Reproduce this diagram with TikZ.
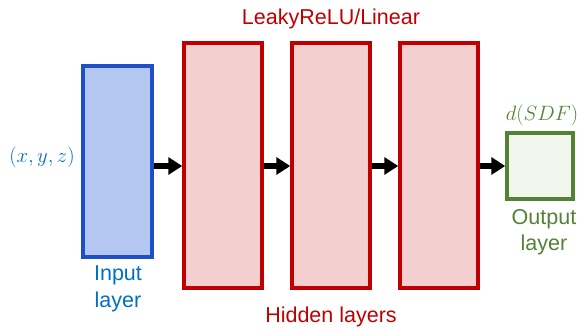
\documentclass[tikz,border=0pt]{standalone}
\usepackage{fontspec}
\setmainfont{Liberation Sans}
\usetikzlibrary{arrows.meta}
\definecolor{inblue}{HTML}{1F4FC8}
\definecolor{infill}{HTML}{B4C7F0}
\definecolor{txtblue}{HTML}{0070C0}
\definecolor{hred}{HTML}{C00000}
\definecolor{hfill}{HTML}{F4CFCF}
\definecolor{ogreen}{HTML}{548235}
\definecolor{ofill}{HTML}{F0F6EC}
\begin{document}
\begin{tikzpicture}[x=1pt,y=-1pt,
  inbox/.style={draw=inblue,fill=infill,line width=3.5pt},
  hbox/.style={draw=hred,fill=hfill,line width=3.5pt},
  obox/.style={draw=ogreen,fill=ofill,line width=3.5pt},
  conn/.style={line width=5.5pt,-{Triangle[length=14pt,width=17pt]}},
  lbl/.style={font=\fontsize{21.5}{26.5}\selectfont,align=center},
  mlbl/.style={font=\fontsize{21.5}{26}\selectfont,inner sep=0pt}]
\useasboundingbox (0,0) rectangle (577,335);
\node[inbox,minimum width=69pt,minimum height=191pt,inner sep=0pt] (in) at (117.5,161.5) {};
\node[hbox,minimum width=78pt,minimum height=245pt,inner sep=0pt] (h1) at (223,165.5) {};
\node[hbox,minimum width=78pt,minimum height=245pt,inner sep=0pt] (h2) at (331,165.5) {};
\node[hbox,minimum width=78pt,minimum height=245pt,inner sep=0pt] (h3) at (439,165.5) {};
\node[obox,minimum width=66pt,minimum height=66pt,inner sep=0pt] (out) at (540,166) {};
\draw[conn] (in.east |- 0,166) -- (h1.west |- 0,166);
\draw[conn] (h1.east |- 0,166) -- (h2.west |- 0,166);
\draw[conn] (h2.east |- 0,166) -- (h3.west |- 0,166);
\draw[conn] (h3.east |- 0,166) -- (out.west);
\node[mlbl,text=txtblue] (xyz) at (42,157) {$(x,y,z)$};
\node[lbl,text=txtblue] (inl) at (118,289) {Input\\layer};
\node[lbl,text=hred] (top) at (331,19) {LeakyReLU/Linear};
\node[lbl,text=hred] (bot) at (331,317) {Hidden layers};
\node[mlbl,text=ogreen] (d) at (542,115) {$d(SDF)$};
\node[lbl,text=ogreen] (outl) at (544,232) {Output\\layer};
\end{tikzpicture}
\end{document}
